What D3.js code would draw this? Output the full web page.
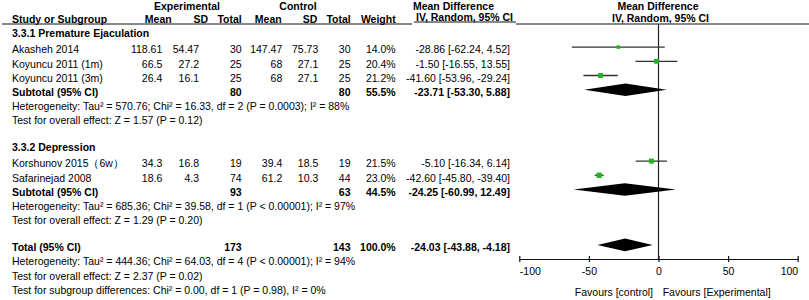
<!DOCTYPE html>
<html>
<head>
<meta charset="utf-8">
<script src="https://cdn.jsdelivr.net/npm/d3@7"></script>
<style>
  body { margin: 0; background: #fff; }
  svg text { font-family: "Liberation Sans", Arial, sans-serif; font-size: 10.5px; fill: #000; }
  svg text.b { font-weight: bold; }
</style>
</head>
<body>
<svg id="chart" width="809" height="300"></svg>
<script>
// study level
var studies = ["Akasheh 2014", "Koyuncu 2011 (1m)", "Koyuncu 2011 (3m)", "Korshunov 2015（6w）", "Safarinejad 2008"];
var studyGroup = [0, 0, 0, 1, 1];
var expMean = [118.61, 66.5, 26.4, 34.3, 18.6];
var expSD = [54.47, 27.2, 16.1, 16.8, 4.3];
var expN = [30, 25, 25, 19, 74];
var ctlMean = [147.47, 68, 68, 39.4, 61.2];
var ctlSD = [75.73, 27.1, 27.1, 18.5, 10.3];
var ctlN = [30, 25, 25, 19, 44];
var weights = [14.0, 20.4, 21.2, 21.5, 23.0];
var md = [-28.86, -1.50, -41.60, -5.10, -42.60];
var ciLow = [-62.24, -16.55, -53.96, -16.34, -45.80];
var ciHigh = [4.52, 13.55, -29.24, 6.14, -39.40];

// subgroups
var subgroups = ["3.3.1 Premature Ejaculation", "3.3.2 Depression"];
var subExpN = [80, 93];
var subCtlN = [80, 63];
var subWeight = [55.5, 44.5];
var subMD = [-23.71, -24.25];
var subLow = [-53.30, -60.99];
var subHigh = [5.88, 12.49];
var subHet = ["Heterogeneity: Tau² = 570.76; Chi² = 16.33, df = 2 (P = 0.0003); I² = 88%",
              "Heterogeneity: Tau² = 685.36; Chi² = 39.58, df = 1 (P < 0.00001); I² = 97%"];
var subTest = ["Test for overall effect: Z = 1.57 (P = 0.12)",
               "Test for overall effect: Z = 1.29 (P = 0.20)"];

// overall
var totalExpN = 173, totalCtlN = 143, totalWeight = 100.0;
var totalMD = -24.03, totalLow = -43.88, totalHigh = -4.18;
var totalNotes = ["Heterogeneity: Tau² = 444.36; Chi² = 64.03, df = 4 (P < 0.00001); I² = 94%",
                  "Test for overall effect: Z = 2.37 (P = 0.02)",
                  "Test for subgroup differences: Chi² = 0.00, df = 1 (P = 0.98), I² = 0%"];

var axisTicks = [-100, -50, 0, 50, 100];

var svg = d3.select("#chart");

var x = d3.scaleLinear().domain([-100, 100]).range([519.3, 797.7]);
var boxSize = d3.scaleLinear().domain([0, 23]).range([0.8, 5.3]);

var col = { name: 12, eMean: 162.3, eSD: 199, eN: 241.7, cMean: 282.3, cSD: 318.3, cN: 350.5, w: 395.7, ci: 510 };

function ciText(m, l, h) {
  return m.toFixed(2) + " [" + l.toFixed(2) + ", " + h.toFixed(2) + "]";
}

// build the row list
var rows = [];
subgroups.forEach(function(g, gi) {
  rows.push({ kind: "title", text: g });
  studies.forEach(function(s, i) {
    if (studyGroup[i] === gi) rows.push({ kind: "study", i: i });
  });
  rows.push({ kind: "sub", g: gi });
  rows.push({ kind: "note", text: subHet[gi] });
  rows.push({ kind: "note", text: subTest[gi] });
  rows.push({ kind: "gap" });
});
rows.push({ kind: "total" });
totalNotes.forEach(function(t) { rows.push({ kind: "note", text: t }); });

var yPos = 37.3, prev = null;
rows.forEach(function(r) {
  if (prev) {
    if (prev.kind === "title") yPos += 16;
    else if (prev.kind === "gap") yPos += 12.8;
    else yPos += 14.2;
  }
  r.y = yPos;
  prev = r;
});
rows = rows.filter(function(r) { return r.kind !== "gap"; });

function txt(xp, yp, s, anchor, bold) {
  svg.append("text")
    .attr("x", xp).attr("y", yp)
    .attr("text-anchor", anchor || "start")
    .attr("class", bold ? "b" : null)
    .text(s);
}

// headers
txt(187, 9.5, "Experimental", "middle", true);
txt(298, 9.5, "Control", "middle", true);
txt(453.5, 9.5, "Mean Difference", "middle", true);
txt(658, 9.5, "Mean Difference", "middle", true);
txt(12, 22.5, "Study or Subgroup", "start", true);
txt(171.7, 22.5, "Mean", "end", true);
txt(208, 22.5, "SD", "end", true);
txt(241.7, 22.5, "Total", "end", true);
txt(281.7, 22.5, "Mean", "end", true);
txt(317.3, 22.5, "SD", "end", true);
txt(350.7, 22.5, "Total", "end", true);
txt(395.7, 22.5, "Weight", "end", true);
txt(464.5, 20.5, "IV, Random, 95% CI", "middle", true);
txt(660.5, 21.5, "IV, Random, 95% CI", "middle", true);

svg.append("line").attr("x1", 2).attr("x2", 412).attr("y1", 24).attr("y2", 24).attr("stroke", "#111").attr("stroke-width", 1);
svg.append("line").attr("x1", 414).attr("x2", 516).attr("y1", 22).attr("y2", 22).attr("stroke", "#111").attr("stroke-width", 1);
svg.append("line").attr("x1", 516).attr("x2", 809).attr("y1", 24).attr("y2", 24).attr("stroke", "#111").attr("stroke-width", 1);

// zero line
svg.append("line")
  .attr("x1", x(0)).attr("x2", x(0))
  .attr("y1", 24).attr("y2", 259)
  .attr("stroke", "#222").attr("stroke-width", 1.2);

function diamond(cy, m, l, h) {
  var hh = 6.3;
  svg.append("path")
    .attr("d", "M" + x(l) + "," + cy + "L" + x(m) + "," + (cy - hh) + "L" + x(h) + "," + cy + "L" + x(m) + "," + (cy + hh) + "Z")
    .attr("fill", "#000");
}

rows.forEach(function(r) {
  var my = r.y - 6.2;
  if (r.kind === "title") {
    txt(col.name, r.y, r.text, "start", true);
  } else if (r.kind === "note") {
    txt(col.name, r.y, r.text);
  } else if (r.kind === "study") {
    var i = r.i;
    txt(col.name, r.y, studies[i]);
    txt(col.eMean, r.y, String(expMean[i]), "end");
    txt(col.eSD, r.y, String(expSD[i]), "end");
    txt(col.eN, r.y, String(expN[i]), "end");
    txt(col.cMean, r.y, String(ctlMean[i]), "end");
    txt(col.cSD, r.y, String(ctlSD[i]), "end");
    txt(col.cN, r.y, String(ctlN[i]), "end");
    txt(col.w, r.y, weights[i].toFixed(1) + "%", "end");
    txt(col.ci, r.y, ciText(md[i], ciLow[i], ciHigh[i]), "end");
    svg.append("line")
      .attr("x1", x(ciLow[i])).attr("x2", x(ciHigh[i]))
      .attr("y1", my).attr("y2", my)
      .attr("stroke", "#333").attr("stroke-width", 1.3);
    var s = boxSize(weights[i]);
    svg.append("rect")
      .attr("x", x(md[i]) - s / 2).attr("y", my - s / 2)
      .attr("width", s).attr("height", s)
      .attr("fill", "#1fb51f");
  } else if (r.kind === "sub") {
    var g = r.g;
    txt(col.name, r.y, "Subtotal (95% CI)", "start", true);
    txt(col.eN, r.y, String(subExpN[g]), "end", true);
    txt(col.cN, r.y, String(subCtlN[g]), "end", true);
    txt(col.w, r.y, subWeight[g].toFixed(1) + "%", "end", true);
    txt(col.ci, r.y, ciText(subMD[g], subLow[g], subHigh[g]), "end", true);
    diamond(my, subMD[g], subLow[g], subHigh[g]);
  } else if (r.kind === "total") {
    txt(col.name, r.y, "Total (95% CI)", "start", true);
    txt(col.eN, r.y, String(totalExpN), "end", true);
    txt(col.cN, r.y, String(totalCtlN), "end", true);
    txt(col.w, r.y, totalWeight.toFixed(1) + "%", "end", true);
    txt(col.ci, r.y, ciText(totalMD, totalLow, totalHigh), "end", true);
    diamond(my, totalMD, totalLow, totalHigh);
  }
});

// axis
var axisG = svg.append("g")
  .attr("transform", "translate(0,259)")
  .call(d3.axisBottom(x).tickValues(axisTicks).tickSize(3).tickSizeOuter(0).tickPadding(5.5).tickFormat(function(d) { return String(d); }));
axisG.select(".domain").attr("stroke", "#111").attr("stroke-width", 1.2);
axisG.selectAll(".tick line").attr("y1", -3).attr("stroke", "#111").attr("stroke-width", 1.2);
axisG.selectAll(".tick text")
  .attr("font-family", null).attr("font-size", null)
  .attr("text-anchor", function(d, i) { return i === 0 ? "start" : (i === axisTicks.length - 1 ? "end" : "middle"); });

txt(653, 295.5, "Favours [control]", "end");
txt(662.7, 295.5, "Favours [Experimental]", "start");
</script>
</body>
</html>
